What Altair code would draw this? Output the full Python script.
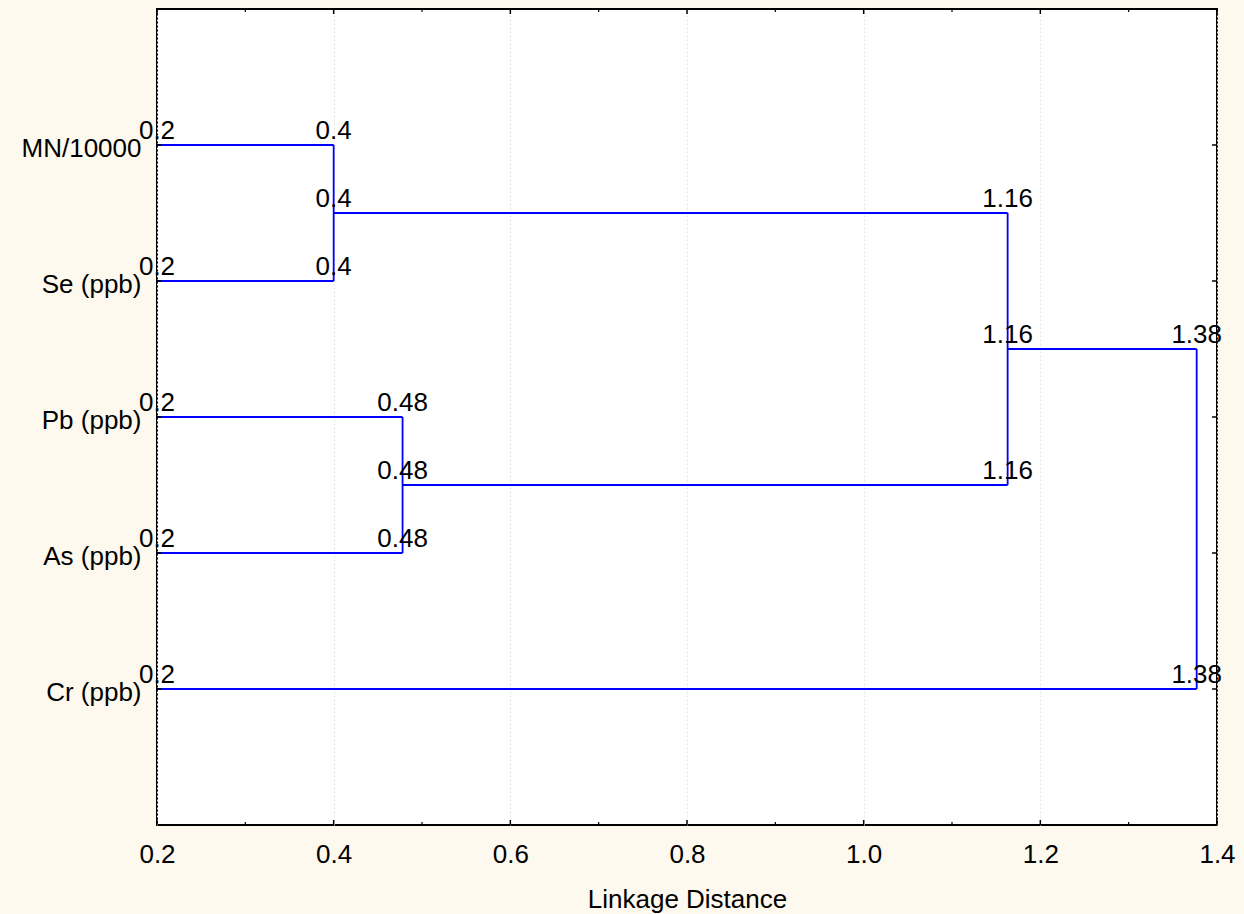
import altair as alt
import pandas as pd

# ---- data ----
variables = ["MN/10000", "Se (ppb)", "Pb (ppb)", "As (ppb)", "Cr (ppb)"]
# dendrogram segments: x1, x2, y1, y2 (y in leaf-order units 1..5)
seg_x1 = [0.2, 0.2, 0.4, 0.4, 0.2, 0.2, 0.478, 0.478, 1.163, 1.163, 0.2, 1.377]
seg_x2 = [0.4, 0.4, 0.4, 1.163, 0.478, 0.478, 0.478, 1.163, 1.163, 1.377, 1.377, 1.377]
seg_y1 = [1, 2, 1, 1.5, 3, 4, 3, 3.5, 1.5, 2.5, 5, 2.5]
seg_y2 = [1, 2, 2, 1.5, 3, 4, 4, 3.5, 3.5, 2.5, 5, 5]
# node labels
lab_x = [0.2, 0.2, 0.2, 0.2, 0.2, 0.4, 0.4, 0.4, 0.478, 0.478, 0.478, 1.163, 1.163, 1.163, 1.377, 1.377]
lab_y = [1, 2, 3, 4, 5, 1, 1.5, 2, 3, 3.5, 4, 1.5, 2.5, 3.5, 2.5, 5]
lab_t = ["0.2", "0.2", "0.2", "0.2", "0.2", "0.4", "0.4", "0.4", "0.48", "0.48", "0.48",
         "1.16", "1.16", "1.16", "1.38", "1.38"]
x_major = [0.2, 0.4, 0.6, 0.8, 1.0, 1.2, 1.4]
x_minor = [0.3, 0.5, 0.7, 0.9, 1.1, 1.3]
y_ticks = [1, 2, 3, 4, 5]

W, H = 1060, 816
FONT = "Liberation Sans"
FS = 26

segs = pd.DataFrame({"x1": seg_x1, "x2": seg_x2, "y1": seg_y1, "y2": seg_y2})
labs = pd.DataFrame({"x": lab_x, "y": lab_y, "t": lab_t})
xmaj = pd.DataFrame({"v": x_major})
xmin = pd.DataFrame({"v": x_minor})
yt = pd.DataFrame({"v": y_ticks})

label_arr = "[" + ",".join("'" + v + "'" for v in variables) + "]"

xscale = alt.Scale(domain=[0.2, 1.4], nice=False, zero=False)
yscale = alt.Scale(domain=[0, 6], reverse=True, nice=False, zero=False)

xaxis = alt.Axis(values=x_major, format=".1f", title="Linkage Distance", grid=True,
                 gridColor="#e4e4e4", gridDash=[2, 2], gridWidth=1,
                 ticks=False, domain=False, labelFontSize=FS, labelFont=FONT,
                 labelColor="black", labelPadding=16, titleFont=FONT, titleFontSize=FS,
                 titleFontWeight="normal", titleColor="black", titlePadding=19,
                 labelFlush=False)
yaxis = alt.Axis(values=y_ticks, labelExpr=label_arr + "[datum.value-1]", title=None,
                 grid=False, ticks=False, domain=False, labelFontSize=FS, labelFont=FONT,
                 labelColor="black", labelPadding=16, labelBaseline="middle", labelOffset=3)

lines = alt.Chart(segs).mark_rule(color="#0000ff", strokeWidth=1.8).encode(
    x=alt.X("x1:Q", scale=xscale, axis=xaxis),
    x2="x2:Q",
    y=alt.Y("y1:Q", scale=yscale, axis=yaxis),
    y2="y2:Q",
)

texts = alt.Chart(labs).mark_text(font=FONT, fontSize=FS, color="black", align="center",
                                   baseline="alphabetic", dy=-6).encode(
    x=alt.X("x:Q", scale=xscale),
    y=alt.Y("y:Q", scale=yscale),
    text="t:N",
)

tick_bot = alt.Chart(xmaj).mark_rule(color="black", strokeWidth=1.5).encode(
    x=alt.X("v:Q", scale=xscale), y=alt.value(H), y2=alt.value(H - 5))
tick_top = alt.Chart(xmaj).mark_rule(color="black", strokeWidth=1.5).encode(
    x=alt.X("v:Q", scale=xscale), y=alt.value(0), y2=alt.value(5))
mtick_bot = alt.Chart(xmin).mark_rule(color="black", strokeWidth=1.2).encode(
    x=alt.X("v:Q", scale=xscale), y=alt.value(H), y2=alt.value(H - 3))
mtick_top = alt.Chart(xmin).mark_rule(color="black", strokeWidth=1.2).encode(
    x=alt.X("v:Q", scale=xscale), y=alt.value(0), y2=alt.value(3))
ytick_r = alt.Chart(yt).mark_rule(color="black", strokeWidth=1.5).encode(
    y=alt.Y("v:Q", scale=yscale), x=alt.value(W), x2=alt.value(W - 5))
ytick_l = alt.Chart(yt).mark_rule(color="black", strokeWidth=1.5).encode(
    y=alt.Y("v:Q", scale=yscale), x=alt.value(0), x2=alt.value(4))

chart = alt.layer(lines, texts, tick_bot, tick_top, mtick_bot, mtick_top, ytick_r, ytick_l).properties(
    width=W, height=H,
    background="#fdf9ee",
    padding={"left": 157, "top": 9, "right": 27, "bottom": 89},
    autosize=alt.AutoSizeParams(type="none"),
).configure_view(stroke="black", strokeWidth=2, fill="white")

chart.save("out.html", embed_options={"renderer": "svg", "actions": False})
